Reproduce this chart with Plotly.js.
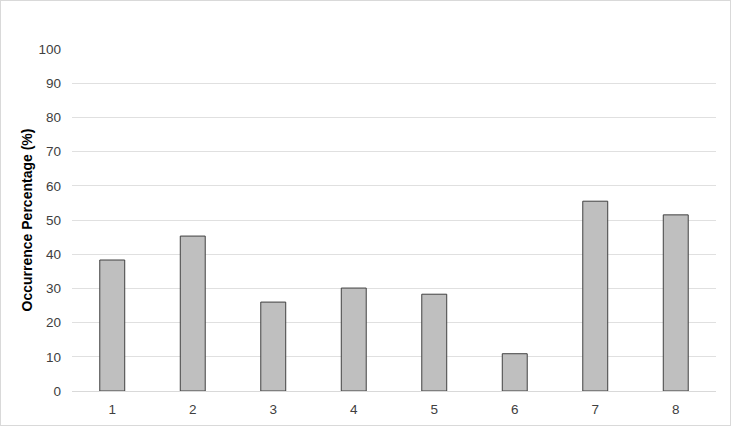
<!DOCTYPE html>
<html>
<head>
<meta charset="utf-8">
<script src="https://cdn.plot.ly/plotly-3.0.1.min.js"></script>
<style>
html, body { margin: 0; padding: 0; background: #fff; }
#wrap { position: relative; width: 731px; height: 426px; }
#chart { width: 731px; height: 426px; }
#frame { position: absolute; left: 0; top: 0; width: 729px; height: 424px; border: 1px solid #d9d9d9; pointer-events: none; }
</style>
</head>
<body>
<div id="wrap">
<div id="chart"></div>
<div id="frame"></div>
</div>
<script>
var categories = ["1", "2", "3", "4", "5", "6", "7", "8"];
var occurrence = [38.3, 45.3, 26.0, 30.1, 28.3, 10.9, 55.5, 51.5];
var yTickValues = [0, 10, 20, 30, 40, 50, 60, 70, 80, 90, 100];
var yAxisTitle = "Occurrence Percentage (%)";

var trace = {
  type: "bar",
  x: categories,
  y: occurrence,
  marker: { color: "#bfbfbf", line: { color: "#404040", width: 1 } },
  width: 0.31,
  hoverinfo: "x+y"
};

var layout = {
  width: 731,
  height: 426,
  margin: { l: 72, r: 15, t: 49, b: 35 },
  paper_bgcolor: "#ffffff",
  plot_bgcolor: "#ffffff",
  font: { family: "Liberation Sans, Arial, sans-serif", size: 13, color: "#595959" },
  showlegend: false,
  xaxis: {
    type: "category",
    showgrid: false,
    showline: false,
    zeroline: false,
    ticks: "",
    ticklabelstandoff: 8,
    tickfont: { size: 13.5, color: "#404040" },
    automargin: false
  },
  yaxis: {
    range: [0, 100],
    tickvals: yTickValues,
    showgrid: true,
    gridcolor: "#e0e0e0",
    gridwidth: 1,
    zeroline: true,
    zerolinecolor: "#d9d9d9",
    zerolinewidth: 1,
    showline: false,
    ticks: "",
    ticklabelstandoff: 10,
    tickfont: { size: 13.5, color: "#404040" },
    automargin: false,
    title: {
      text: "<b>" + yAxisTitle + "</b>",
      font: { size: 14, color: "#000000", family: "Liberation Sans, Arial, sans-serif" },
      standoff: 2
    }
  }
};

Plotly.newPlot("chart", [trace], layout, { displayModeBar: false, staticPlot: true });
</script>
</body>
</html>
